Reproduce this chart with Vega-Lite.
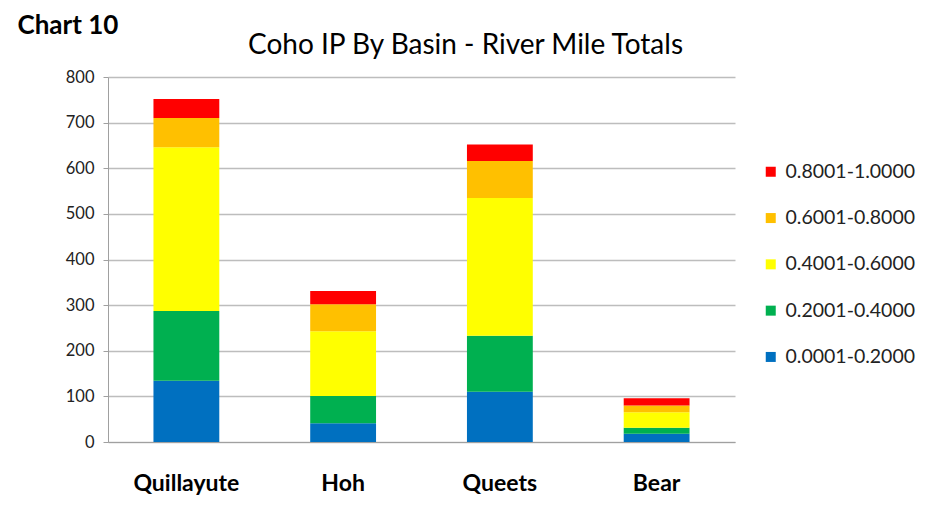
{
  "$schema": "https://vega.github.io/schema/vega-lite/v6.json",
  "autosize": "none",
  "width": 627,
  "height": 365,
  "padding": {"left": 108, "top": 77, "right": 203, "bottom": 63},
  "background": "white",
  "title": {"text": "Coho IP By Basin - River Mile Totals", "anchor": "middle", "dx": 44, "offset": -48, "fontSize": 28, "font": "Lato", "fontWeight": "normal", "color": "#000000"},
  "data": {"values": [
    {"basin": "Quillayute", "range": "0.0001-0.2000", "k": 1, "miles": 134},
    {"basin": "Quillayute", "range": "0.2001-0.4000", "k": 2, "miles": 153},
    {"basin": "Quillayute", "range": "0.4001-0.6000", "k": 3, "miles": 359},
    {"basin": "Quillayute", "range": "0.6001-0.8000", "k": 4, "miles": 64},
    {"basin": "Quillayute", "range": "0.8001-1.0000", "k": 5, "miles": 42},
    {"basin": "Hoh", "range": "0.0001-0.2000", "k": 1, "miles": 41},
    {"basin": "Hoh", "range": "0.2001-0.4000", "k": 2, "miles": 60},
    {"basin": "Hoh", "range": "0.4001-0.6000", "k": 3, "miles": 142},
    {"basin": "Hoh", "range": "0.6001-0.8000", "k": 4, "miles": 59},
    {"basin": "Hoh", "range": "0.8001-1.0000", "k": 5, "miles": 29},
    {"basin": "Queets", "range": "0.0001-0.2000", "k": 1, "miles": 110},
    {"basin": "Queets", "range": "0.2001-0.4000", "k": 2, "miles": 123},
    {"basin": "Queets", "range": "0.4001-0.6000", "k": 3, "miles": 302},
    {"basin": "Queets", "range": "0.6001-0.8000", "k": 4, "miles": 81},
    {"basin": "Queets", "range": "0.8001-1.0000", "k": 5, "miles": 36},
    {"basin": "Bear", "range": "0.0001-0.2000", "k": 1, "miles": 18},
    {"basin": "Bear", "range": "0.2001-0.4000", "k": 2, "miles": 13},
    {"basin": "Bear", "range": "0.4001-0.6000", "k": 3, "miles": 34},
    {"basin": "Bear", "range": "0.6001-0.8000", "k": 4, "miles": 15},
    {"basin": "Bear", "range": "0.8001-1.0000", "k": 5, "miles": 16}
  ]},
  "mark": {"type": "bar"},
  "encoding": {
    "x": {"field": "basin", "type": "nominal", "sort": ["Quillayute", "Hoh", "Queets", "Bear"],
      "scale": {"paddingInner": 0.58, "paddingOuter": 0.29},
      "axis": {"title": null, "labelAngle": 0, "labelFontSize": 23, "labelFont": "Lato", "labelFontWeight": "bold", "labelColor": "#000000", "labelPadding": 30, "ticks": false, "domainColor": "#a0a0a0"}},
    "y": {"field": "miles", "type": "quantitative", "aggregate": "sum", "stack": "zero",
      "scale": {"domain": [0, 800], "nice": false},
      "axis": {"values": [0, 100, 200, 300, 400, 500, 600, 700, 800], "title": "Chart 10", "titleAngle": 0, "titleX": -91, "titleY": -52, "titleAlign": "left", "titleBaseline": "middle", "titleFont": "Lato", "titleFontSize": 26, "titleFontWeight": "bold", "titleColor": "#000000",
        "labelFont": "Lato", "labelFontSize": 16.5, "labelColor": "#222222", "labelPadding": 9, "tickColor": "#a0a0a0", "tickSize": 5, "domainColor": "#a0a0a0", "gridColor": "#bdbdbd", "gridWidth": 1.3}},
    "color": {"field": "range", "type": "nominal",
      "scale": {"domain": ["0.8001-1.0000", "0.6001-0.8000", "0.4001-0.6000", "0.2001-0.4000", "0.0001-0.2000"],
        "range": ["#ff0000", "#ffc000", "#ffff00", "#00b050", "#0070c0"]},
      "legend": {"title": null, "orient": "none", "legendX": 653, "legendY": 85, "symbolType": "square", "symbolSize": 100, "symbolStrokeWidth": 0, "labelFont": "Lato", "labelFontSize": 19.5, "labelColor": "#222222", "rowPadding": 25.3, "labelOffset": 5}},
    "order": {"field": "k", "type": "quantitative", "sort": "ascending"}
  },
  "config": {"view": {"stroke": null}}
}
